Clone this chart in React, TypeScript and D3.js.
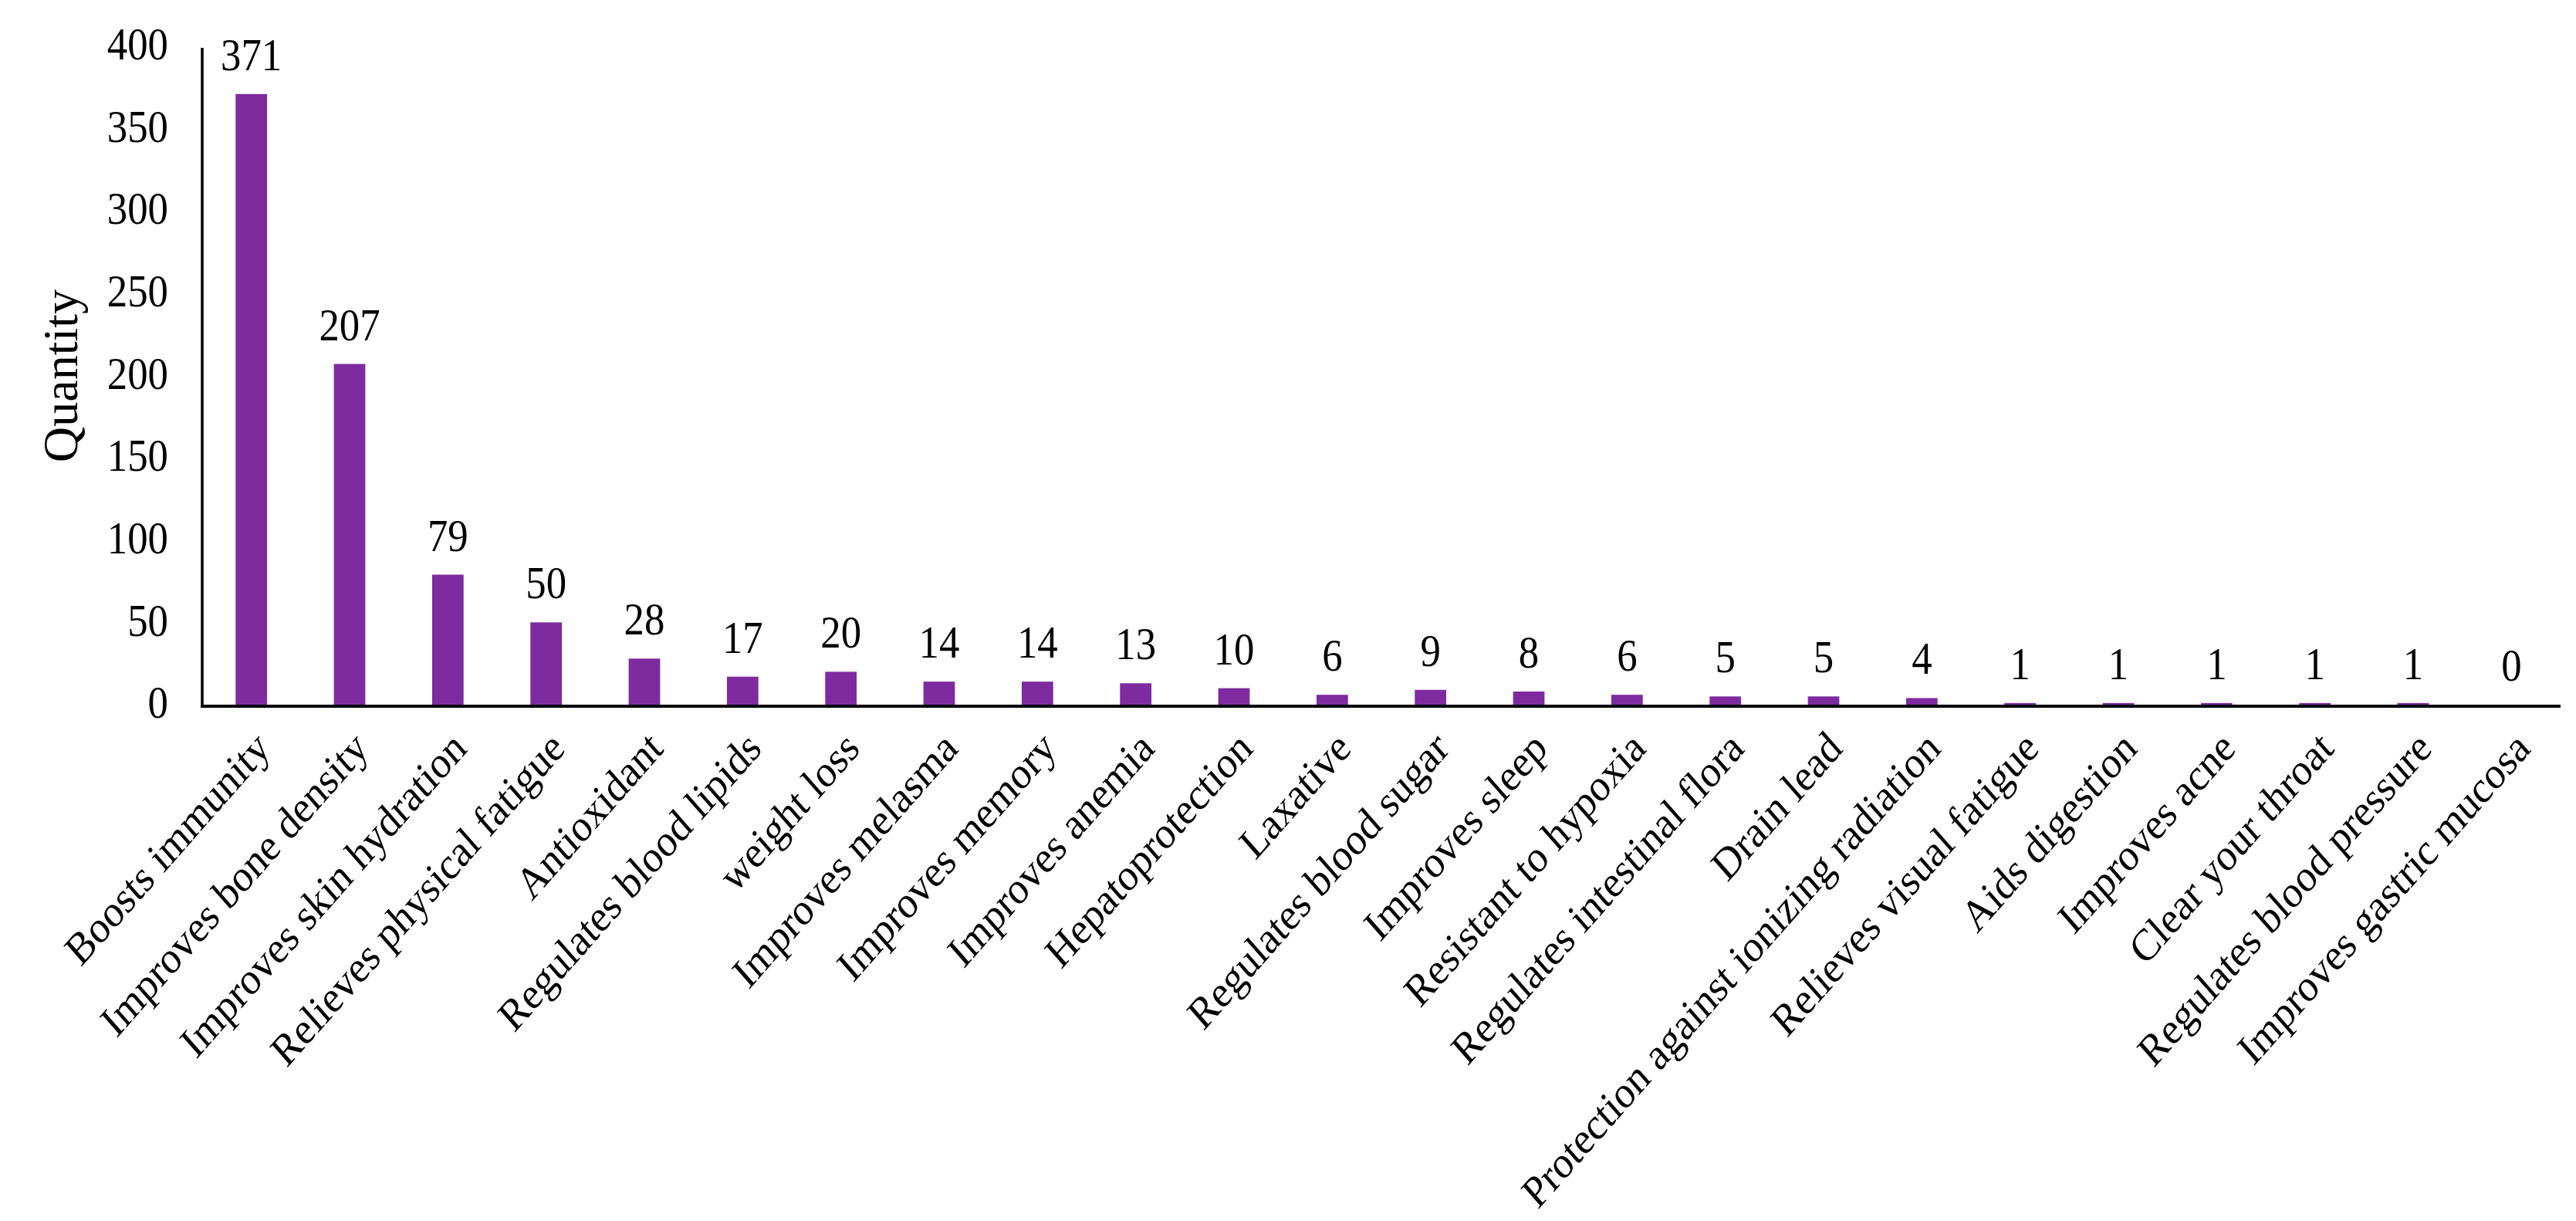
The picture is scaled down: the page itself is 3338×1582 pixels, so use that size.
import React, { useEffect } from "react";
import * as d3 from "d3";

const categories = [
  "Boosts immunity",
  "Improves bone density",
  "Improves skin hydration",
  "Relieves physical fatigue",
  "Antioxidant",
  "Regulates blood lipids",
  "weight loss",
  "Improves melasma",
  "Improves memory",
  "Improves anemia",
  "Hepatoprotection",
  "Laxative",
  "Regulates blood sugar",
  "Improves sleep",
  "Resistant to hypoxia",
  "Regulates intestinal flora",
  "Drain lead",
  "Protection against ionizing radiation",
  "Relieves visual fatigue",
  "Aids digestion",
  "Improves acne",
  "Clear your throat",
  "Regulates blood pressure",
  "Improves gastric mucosa",
];

const values = [371, 207, 79, 50, 28, 17, 20, 14, 14, 13, 10, 6, 9, 8, 6, 5, 5, 4, 1, 1, 1, 1, 1, 0];

const yTicks = [0, 50, 100, 150, 200, 250, 300, 350, 400];

const W = 3338;
const H = 1582;
const FONT = "'Liberation Serif', 'Times New Roman', serif";
const SQ = 0.88;

export default function App() {
  useEffect(() => {
    document.body.style.margin = "0";
  }, []);

  const left = 262;
  const right = 3318;
  const zeroY = 913;
  const topY = 60;

  const x = d3.scaleBand<string>().domain(categories).range([left, right]).paddingInner(0.68).paddingOuter(0.34);
  const y = d3.scaleLinear().domain([0, 400]).range([zeroY, topY]);

  const barColor = "#7e2ba0";

  return (
    <svg width={W} height={H} style={{ display: "block", position: "absolute", left: 0, top: 0 }} fontFamily={FONT}>
      <rect x={0} y={0} width={W} height={H} fill="#fff" />
      {/* bars */}
      {categories.map((c, i) => (
        <rect key={c} x={x(c)} y={y(values[i])} width={x.bandwidth()} height={zeroY - y(values[i])} fill={barColor} />
      ))}
      {/* data labels */}
      {categories.map((c, i) => (
        <text
          key={"l" + c}
          transform={`translate(${(x(c) as number) + x.bandwidth() / 2},${y(values[i]) - 31}) scale(${SQ},1)`}
          textAnchor="middle"
          fontSize={60}
          fill="#000"
        >
          {values[i]}
        </text>
      ))}
      {/* y axis */}
      <line x1={left} x2={left} y1={y(400) + 2} y2={zeroY + 4} stroke="#000" strokeWidth={3.5} />
      {yTicks.map((t) => (
        <text
          key={"t" + t}
          transform={`translate(${left - 44},${y(t) - 3}) scale(${SQ},1)`}
          textAnchor="end"
          dominantBaseline="central"
          fontSize={60}
          fill="#000"
        >
          {t}
        </text>
      ))}
      {/* x axis */}
      <line x1={left - 1.75} x2={right} y1={zeroY + 2} y2={zeroY + 2} stroke="#000" strokeWidth={4} />
      {categories.map((c) => {
        const cx = (x(c) as number) + x.bandwidth() / 2 + 14;
        const cy = 958;
        return (
          <text
            key={"c" + c}
            transform={`translate(${cx},${cy}) scale(${SQ},1) rotate(-45)`}
            textAnchor="end"
            dy="0.35em"
            fontSize={58}
            fill="#000"
          >
            {c}
          </text>
        );
      })}
      {/* axis title */}
      <text transform={`translate(100,487) rotate(-90)`} textAnchor="middle" fontSize={64} fill="#000">
        Quantity
      </text>
    </svg>
  );
}
